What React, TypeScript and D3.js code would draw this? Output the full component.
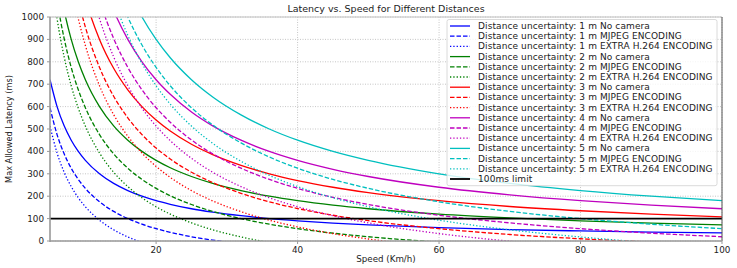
import React from "react";
import * as d3 from "d3";

// Speeds (km/h) at which each curve is sampled
const speeds = [5, 6, 7, 8, 9, 10, 12, 14, 16, 18, 20, 22, 25, 28, 32, 36, 40, 45, 50, 60, 70, 80, 90, 100];

// Max allowed latency (ms) per distance uncertainty and pipeline
const d1NoCam = [720, 600, 514, 450, 400, 360, 300, 257, 225, 200, 180, 164, 144, 129, 113, 100, 90, 80, 72, 60, 51, 45, 40, 36];
const d1Mjpeg = [595, 475, 389, 325, 275, 235, 175, 132, 100, 75, 55, 39, 19, 4, -12, -25, -35, -45, -53, -65, -74, -80, -85, -89];
const d1H264 = [513, 393, 307, 243, 193, 153, 93, 50, 18, -7, -27, -43, -63, -78, -94, -107, -117, -127, -135, -147, -156, -162, -167, -171];

const d2NoCam = [1440, 1200, 1029, 900, 800, 720, 600, 514, 450, 400, 360, 327, 288, 257, 225, 200, 180, 160, 144, 120, 103, 90, 80, 72];
const d2Mjpeg = [1315, 1075, 904, 775, 675, 595, 475, 389, 325, 275, 235, 202, 163, 132, 100, 75, 55, 35, 19, -5, -22, -35, -45, -53];
const d2H264 = [1233, 993, 822, 693, 593, 513, 393, 307, 243, 193, 153, 120, 81, 50, 18, -7, -27, -47, -63, -87, -104, -117, -127, -135];

const d3NoCam = [2160, 1800, 1543, 1350, 1200, 1080, 900, 771, 675, 600, 540, 491, 432, 386, 338, 300, 270, 240, 216, 180, 154, 135, 120, 108];
const d3Mjpeg = [2035, 1675, 1418, 1225, 1075, 955, 775, 646, 550, 475, 415, 366, 307, 261, 213, 175, 145, 115, 91, 55, 29, 10, -5, -17];
const d3H264 = [1953, 1593, 1336, 1143, 993, 873, 693, 564, 468, 393, 333, 284, 225, 179, 131, 93, 63, 33, 9, -27, -53, -72, -87, -99];

const d4NoCam = [2880, 2400, 2057, 1800, 1600, 1440, 1200, 1029, 900, 800, 720, 655, 576, 514, 450, 400, 360, 320, 288, 240, 206, 180, 160, 144];
const d4Mjpeg = [2755, 2275, 1932, 1675, 1475, 1315, 1075, 904, 775, 675, 595, 530, 451, 389, 325, 275, 235, 195, 163, 115, 81, 55, 35, 19];
const d4H264 = [2673, 2193, 1850, 1593, 1393, 1233, 993, 822, 693, 593, 513, 448, 369, 307, 243, 193, 153, 113, 81, 33, -1, -27, -47, -63];

const d5NoCam = [3600, 3000, 2571, 2250, 2000, 1800, 1500, 1286, 1125, 1000, 900, 818, 720, 643, 563, 500, 450, 400, 360, 300, 257, 225, 200, 180];
const d5Mjpeg = [3475, 2875, 2446, 2125, 1875, 1675, 1375, 1161, 1000, 875, 775, 693, 595, 518, 438, 375, 325, 275, 235, 175, 132, 100, 75, 55];
const d5H264 = [3393, 2793, 2364, 2043, 1793, 1593, 1293, 1079, 918, 793, 693, 611, 513, 436, 356, 293, 243, 193, 153, 93, 50, 18, -7, -27];

const distances = [1, 2, 3, 4, 5];
const pipelines = ["No camera", "MJPEG ENCODING", "EXTRA H.264 ENCODING"];
const seriesValues = [
  [d1NoCam, d1Mjpeg, d1H264],
  [d2NoCam, d2Mjpeg, d2H264],
  [d3NoCam, d3Mjpeg, d3H264],
  [d4NoCam, d4Mjpeg, d4H264],
  [d5NoCam, d5Mjpeg, d5H264],
];
const limitMs = 100;
const xTicks = [20, 40, 60, 80, 100];
const yTicks = [0, 100, 200, 300, 400, 500, 600, 700, 800, 900, 1000];

const colors = ["#0000ff", "#008000", "#ff0000", "#bf00bf", "#00bfbf"];
const dashes = ["none", "4.5,2", "1.3,2"];

const W = 737;
const H = 268;
const margin = { left: 50, right: 15, top: 17, bottom: 27 };
const font = "DejaVu Sans, sans-serif";

export default function App() {
  const x = d3.scaleLinear().domain([5, 100]).range([margin.left, W - margin.right]);
  const y = d3.scaleLinear().domain([0, 1000]).range([H - margin.bottom, margin.top]);
  const line = d3
    .line<number>()
    .x((_, i) => x(speeds[i]))
    .y((v) => y(v))
    .curve(d3.curveMonotoneX);

  const series = distances.flatMap((d, di) =>
    pipelines.map((p, pi) => ({
      label: `Distance uncertainty: ${d} m ${p}`,
      values: seriesValues[di][pi],
      color: colors[di],
      dash: dashes[pi],
    }))
  );

  const [x0, x1] = x.range();
  const [yb, yt] = y.range();

  const legendX = 447;
  const legendY = 19.5;
  const rowH = 10.2;
  const legendW = 270;
  const legendH = rowH * (series.length + 1) + 3;

  return (
    <svg width={W} height={H} style={{ display: "block", position: "absolute", left: 0, top: 0 }} fontFamily={font}>
      <defs>
        <clipPath id="plot-clip">
          <rect x={x0} y={yt} width={x1 - x0} height={yb - yt} />
        </clipPath>
      </defs>
      <rect width={W} height={H} fill="#fff" />

      {/* grid */}
      <g stroke="#b8b8b8" strokeWidth={0.8} strokeDasharray="1,1.5">
        {xTicks.map((t) => (
          <line key={"gx" + t} x1={x(t)} x2={x(t)} y1={yt} y2={yb} />
        ))}
        {yTicks.map((t) => (
          <line key={"gy" + t} x1={x0} x2={x1} y1={y(t)} y2={y(t)} />
        ))}
      </g>

      {/* curves */}
      <g clipPath="url(#plot-clip)" fill="none">
        {series.map((s) => (
          <path
            key={s.label}
            d={line(s.values) || ""}
            stroke={s.color}
            strokeWidth={1.3}
            strokeDasharray={s.dash}
          />
        ))}
        <line x1={x0} x2={x1} y1={y(limitMs)} y2={y(limitMs)} stroke="#000" strokeWidth={1.8} />
      </g>

      {/* spines */}
      <line x1={x0} x2={x1} y1={yt} y2={yt} stroke="#c0c0c0" strokeWidth={1} />
      <line x1={x1} x2={x1} y1={yt} y2={yb} stroke="#555" strokeWidth={1} />
      <line x1={x0} x2={x0} y1={yt} y2={yb + 1} stroke="#999" strokeWidth={1.6} />
      <line x1={x0} x2={x1} y1={yb} y2={yb} stroke="#999" strokeWidth={1.6} />

      {/* ticks */}
      <g fontSize={8.8} fill="#222">
        {xTicks.map((t) => (
          <g key={"xt" + t}>
            <line x1={x(t)} x2={x(t)} y1={yb} y2={yb + 3} stroke="#999" />
            <text x={x(t)} y={yb + 11.5} textAnchor="middle">
              {t}
            </text>
          </g>
        ))}
        {yTicks.map((t) => (
          <g key={"yt" + t}>
            <line x1={x0 - 3} x2={x0} y1={y(t)} y2={y(t)} stroke="#999" />
            <text x={x0 - 6} y={y(t) + 3} textAnchor="end">
              {t}
            </text>
          </g>
        ))}
      </g>

      {/* axis labels and title */}
      <text x={(x0 + x1) / 2} y={H - 6} textAnchor="middle" fontSize={8.7} fill="#222">
        Speed (Km/h)
      </text>
      <text
        transform={`translate(12,${(yt + yb) / 2}) rotate(-90)`}
        textAnchor="middle"
        fontSize={8.2}
        fill="#222"
      >
        Max Allowed Latency (ms)
      </text>
      <text x={(x0 + x1) / 2} y={12} textAnchor="middle" fontSize={9.5} fill="#222">
        Latency vs. Speed for Different Distances
      </text>

      {/* legend */}
      <g>
        <rect
          x={legendX}
          y={legendY}
          width={legendW}
          height={legendH}
          rx={2}
          fill="#fff"
          fillOpacity={0.8}
          stroke="#d0d0d0"
          strokeWidth={0.8}
        />
        {series.map((s, i) => {
          const cy = legendY + 6.5 + i * rowH;
          return (
            <g key={"lg" + s.label}>
              <line x1={legendX + 3} x2={legendX + 23} y1={cy} y2={cy} stroke={s.color} strokeWidth={1.3} strokeDasharray={s.dash} />
              <text x={legendX + 31} y={cy + 3} fontSize={9} letterSpacing={0.1} fill="#222">
                {s.label}
              </text>
            </g>
          );
        })}
        {(() => {
          const cy = legendY + 6.5 + series.length * rowH;
          return (
            <g>
              <line x1={legendX + 3} x2={legendX + 23} y1={cy} y2={cy} stroke="#000" strokeWidth={1.8} />
              <text x={legendX + 31} y={cy + 3} fontSize={9} letterSpacing={0.1} fill="#222">
                100ms limit
              </text>
            </g>
          );
        })()}
      </g>
    </svg>
  );
}
